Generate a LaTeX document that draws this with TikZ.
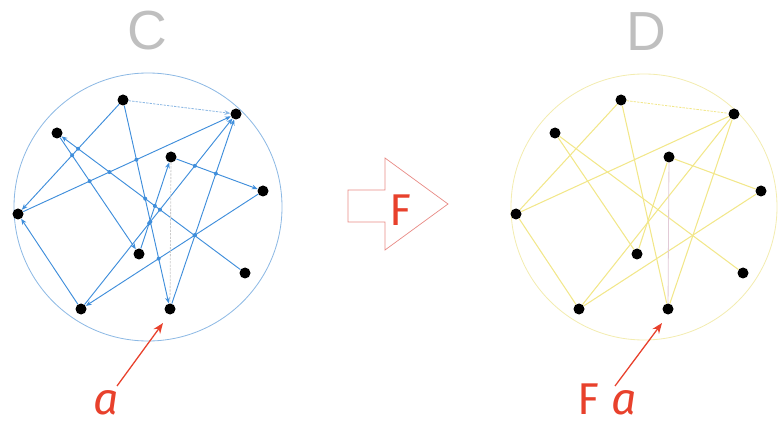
\documentclass[tikz,border=0pt]{standalone}
\usepackage{fontspec}
\setmainfont{Liberation Sans}
\newfontfamily\handfont{Fira Sans}
\usetikzlibrary{arrows.meta}

\definecolor{bluec}{HTML}{3F8EDB}
\definecolor{ringc}{HTML}{8DB9E4}
\definecolor{yellowd}{HTML}{F2E78A}
\definecolor{ringd}{HTML}{F3ECB0}
\definecolor{pinkd}{HTML}{E2CAD6}
\definecolor{redpen}{HTML}{E8412C}
\definecolor{blockred}{HTML}{E88A84}

\begin{document}
\begin{tikzpicture}[x=0.03cm, y=-0.03cm,
  dot/.style={circle, fill=black, inner sep=0pt, minimum size=0.33cm},
  ring/.style={line width=0.7pt},
  edgec/.style={draw=bluec, line width=0.8pt, -{Stealth[length=5pt,width=4pt]}},
  edged/.style={draw=yellowd, line width=0.9pt},
  faint/.style={line width=0.7pt, dashed, dash pattern=on 2pt off 1pt},
  title/.style={text=gray!50, inner sep=0pt, font=\fontsize{47}{50}\selectfont},
  hand/.style={text=redpen, inner sep=0pt, font=\handfont\fontsize{38}{40}\selectfont},
  pointer/.style={draw=redpen, line width=1.1pt, -{Stealth[length=9pt,width=7pt]}}
]
  \useasboundingbox (0,0) rectangle (781,429);

  % titles
  \node[title] (ctitle) at (147,31) {C};
  \node[title] (dtitle) at (646,32) {D};

  % the two rings
  \draw[ring, ringc] (148,207) circle [radius=134];
  \draw[ring, ringd] (644,207) circle [radius=133];

  % points, the second copy is shifted to the right
  \foreach \n/\x/\y in {top/123/100, topr/236/114, upl/57/133, mid/171/157,
      right/263/191, left/18/214, low/139/254, lowr/245/273, botl/81/309, bot/170/309} {
    \node[dot] (c\n) at (\x,\y) {};
    \node[dot] (d\n) at (\x+498,\y) {};
  }

  % connections
  \foreach \a/\b in {lowr/upl, upl/low, top/left, top/bot, left/topr, botl/left,
      right/botl, botl/topr, mid/right, low/mid, bot/topr} {
    \draw[edgec] (c\a) -- (c\b);
    \draw[edged] (d\a) -- (d\b);
  }
  \draw[faint, draw=ringc, -{Stealth[length=5pt,width=4pt]}] (ctop) -- (ctopr);
  \draw[faint, draw=gray!40] (cmid) -- (cbot);
  \draw[faint, draw=yellowd] (dtop) -- (dtopr);
  \draw[line width=0.7pt, pinkd] (dmid) -- (dbot);

  % crossings on the left
  \foreach \p/\q/\r/\s in {top/left/upl/lowr, top/left/upl/low, left/topr/upl/low,
      left/topr/upl/lowr, left/topr/top/bot, botl/topr/mid/right, bot/topr/mid/right,
      botl/right/upl/lowr, botl/right/bot/topr, upl/lowr/top/bot, upl/lowr/botl/topr,
      top/bot/botl/topr, low/mid/botl/topr, low/mid/upl/lowr, top/bot/botl/right}
    \fill[bluec] (intersection cs:first line={(c\p)--(c\q)}, second line={(c\r)--(c\s)}) circle (2);

  % the map
  \draw[blockred, line width=0.6pt] (348,190) -- (385,190) -- (385,158) -- (448,204)
    -- (385,250) -- (385,222) -- (348,222) -- cycle;
  \node[hand] (fmap) at (400,210) {F};

  % labels
  \node[hand, anchor=base] (alabel) at (106,414) {\itshape a};
  \coordinate (atail) at (117,386);
  \coordinate (atip) at (163,323);
  \draw[pointer] (atail) -- (atip);

  \node[hand, anchor=base] (falabel) at (607,414) {F \itshape a};
  \coordinate (fatail) at (615,386);
  \coordinate (fatip) at (662,323);
  \draw[pointer] (fatail) -- (fatip);
\end{tikzpicture}
\end{document}
